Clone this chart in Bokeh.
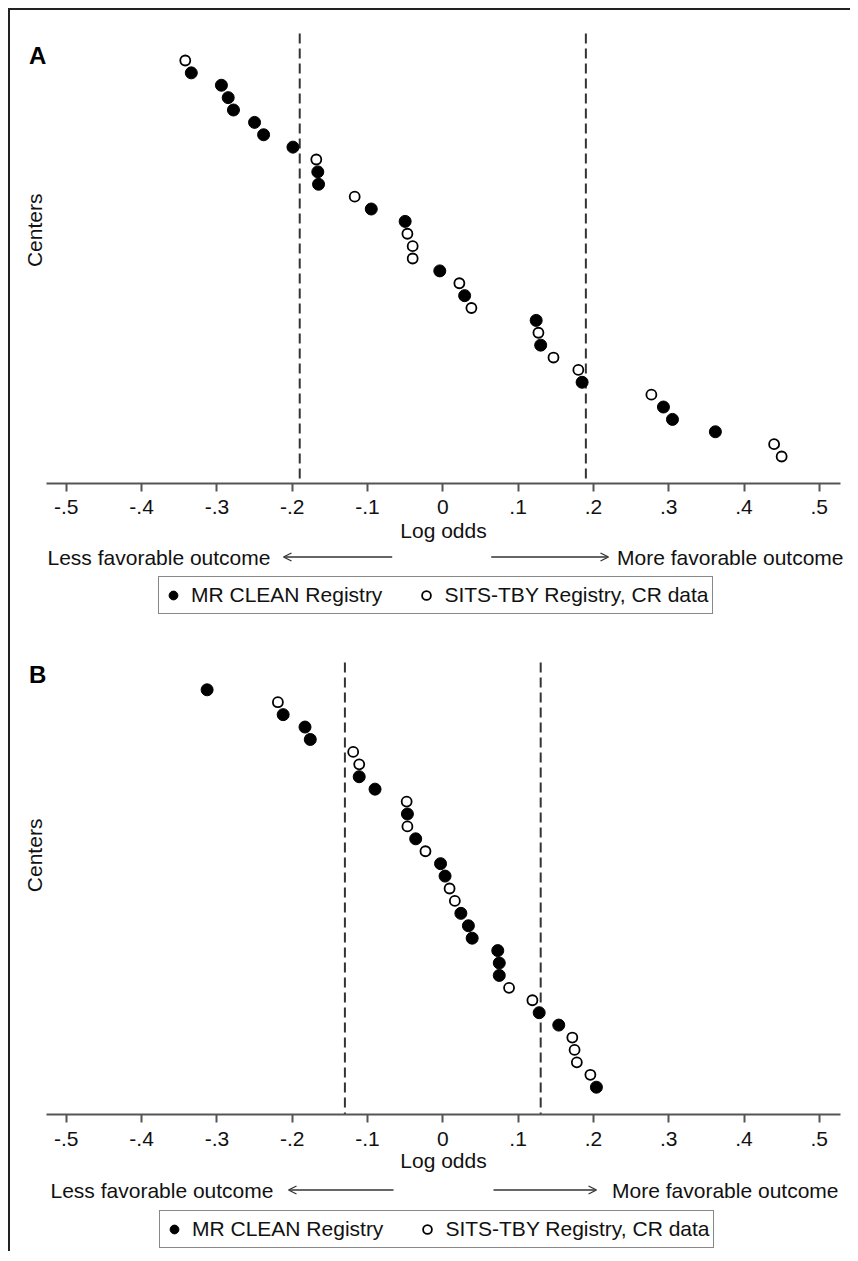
import math
from bokeh.plotting import figure
from bokeh.models import (Range1d, FixedTicker, CustomJSTickFormatter, Label, Arrow,
                          OpenHead, Legend, LegendItem)
from bokeh.layouts import column, row
from bokeh.embed import file_html
from bokeh.resources import INLINE

# ---------------- data (ordered top to bottom) ----------------
a_log_odds = [-0.342, -0.334, -0.294, -0.285, -0.278, -0.250, -0.238, -0.199, -0.168, -0.166,
              -0.165, -0.117, -0.095, -0.050, -0.047, -0.040, -0.040, -0.004, 0.022, 0.029,
              0.038, 0.124, 0.127, 0.130, 0.147, 0.180, 0.185, 0.277, 0.293, 0.305,
              0.362, 0.440, 0.450]
a_registry = ["SITS", "MR", "MR", "MR", "MR", "MR", "MR", "MR", "SITS", "MR",
              "MR", "SITS", "MR", "MR", "SITS", "SITS", "SITS", "MR", "SITS", "MR",
              "SITS", "MR", "SITS", "MR", "SITS", "SITS", "MR", "SITS", "MR", "MR",
              "MR", "SITS", "SITS"]

b_log_odds = [-0.313, -0.219, -0.212, -0.183, -0.176, -0.119, -0.111, -0.111, -0.090, -0.048,
              -0.047, -0.047, -0.036, -0.023, -0.003, 0.003, 0.009, 0.016, 0.024, 0.034,
              0.039, 0.073, 0.075, 0.075, 0.088, 0.119, 0.128, 0.154, 0.172, 0.175,
              0.178, 0.196, 0.204]
b_registry = ["MR", "SITS", "MR", "MR", "MR", "SITS", "SITS", "MR", "MR", "SITS",
              "MR", "SITS", "MR", "SITS", "MR", "MR", "SITS", "SITS", "MR", "MR",
              "MR", "MR", "MR", "MR", "SITS", "SITS", "MR", "MR", "SITS", "SITS",
              "SITS", "SITS", "MR"]

a_cutoffs = [-0.19, 0.19]
b_cutoffs = [-0.13, 0.13]

tick_values = [-0.5, -0.4, -0.3, -0.2, -0.1, 0.0, 0.1, 0.2, 0.3, 0.4, 0.5]
tick_labels = ["-.5", "-.4", "-.3", "-.2", "-.1", "0", ".1", ".2", ".3", ".4", ".5"]

x_axis_label = "Log odds"
y_axis_label = "Centers"
left_text = "Less favorable outcome"
right_text = "More favorable outcome"
series_names = {"MR": "MR CLEAN Registry", "SITS": "SITS-TBY Registry, CR data"}

FONT = "Liberation Sans"
INK = "#111111"
AXIS = "#555555"
ARROW = "#333333"

# horizontal layout (page pixels): log-odds 0 at 442.3 px, 753 px per unit
X0_PX, PX_PER_UNIT = 442.3, 753.0


def px2val(px):
    return (px - X0_PX) / PX_PER_UNIT


def bare(fig):
    fig.grid.visible = False
    fig.outline_line_color = None
    fig.background_fill_color = "white"
    fig.border_fill_color = "white"
    return fig


def split(log_odds, registry, ranks, key):
    xs = [v for v, r in zip(log_odds, registry) if r == key]
    ys = [k for k, r in zip(ranks, registry) if r == key]
    return xs, ys


def add_series(fig, log_odds, registry, ranks):
    mr_x, mr_y = split(log_odds, registry, ranks, "MR")
    si_x, si_y = split(log_odds, registry, ranks, "SITS")
    r_mr = fig.scatter(mr_x, mr_y, marker="circle", size=12, fill_color="black", line_color="black")
    r_si = fig.scatter(si_x, si_y, marker="circle", size=10, fill_color="white",
                       line_color="black", line_width=1.8)
    return r_mr, r_si


def make_panel(letter, log_odds, registry, cutoffs, g):
    ranks = list(range(1, len(log_odds) + 1))
    top_px = g["page_top"]
    main_h = g["main_top"] + g["frame_h"] + g["main_bottom"]
    row_bottom = top_px + main_h

    # ---------- main scatter figure ----------
    p = bare(figure(width=804, height=main_h, output_backend="svg", toolbar_location=None,
                    x_range=Range1d(px2val(46), px2val(840)),
                    y_range=Range1d(g["y_start"], g["y_end"]), y_axis_type=None,
                    min_border_left=0, min_border_right=10,
                    min_border_top=g["main_top"], min_border_bottom=g["main_bottom"]))
    xa = p.xaxis[0]
    xa.ticker = FixedTicker(ticks=tick_values)
    xa.formatter = CustomJSTickFormatter(
        args=dict(vals=tick_values, labs=tick_labels),
        code="const i = vals.findIndex(v => Math.abs(v - tick) < 1e-9); return i >= 0 ? labs[i] : '';")
    xa.axis_line_width = 2
    xa.axis_line_color = AXIS
    xa.major_tick_line_width = 2
    xa.major_tick_line_color = AXIS
    xa.major_tick_out = 8
    xa.major_tick_in = 0
    xa.minor_tick_out = 0
    xa.minor_tick_in = 0
    xa.major_label_text_font = FONT
    xa.major_label_text_font_size = "21px"
    xa.major_label_text_color = INK
    xa.major_label_standoff = g["tick_standoff"]
    xa.axis_label = x_axis_label
    xa.axis_label_text_font = FONT
    xa.axis_label_text_font_size = "21px"
    xa.axis_label_text_font_style = "normal"
    xa.axis_label_text_color = INK
    xa.axis_label_standoff = g["label_standoff"]

    p.segment(x0=cutoffs, y0=[g["dash_top"]] * len(cutoffs), x1=cutoffs,
              y1=[g["y_start"]] * len(cutoffs), line_dash="10 5", line_width=2, line_color="#333333")
    add_series(p, log_odds, registry, ranks)

    # ---------- left strip: panel letter and y label (page-pixel coordinates) ----------
    s = bare(figure(width=36, height=main_h, output_backend="svg", toolbar_location=None,
                    x_range=Range1d(10, 46), y_range=Range1d(row_bottom, top_px),
                    x_axis_type=None, y_axis_type=None, min_border=0))
    s.add_layout(Label(x=28.5, y=g["letter_base"], text=letter, text_font=FONT, text_font_size="24px",
                       text_font_style="bold", text_color="black", text_baseline="alphabetic"))
    s.add_layout(Label(x=33.5, y=g["centers_y"], text=y_axis_label, angle=math.pi / 2,
                       text_align="center", text_baseline="middle",
                       text_font=FONT, text_font_size="21px", text_color=INK))

    # ---------- footer: direction arrows and legend ----------
    foot_h = g["foot_h"]
    f = bare(figure(width=840, height=foot_h, output_backend="svg", toolbar_location=None,
                    x_range=Range1d(px2val(10), px2val(850)),
                    y_range=Range1d(row_bottom + foot_h, row_bottom),
                    x_axis_type=None, y_axis_type=None, min_border=0))
    f.add_layout(Label(x=g["left_x"], y=g["text_y"], text=left_text, text_align="left",
                       text_baseline="middle", text_font=FONT, text_font_size="21px", text_color=INK))
    f.add_layout(Label(x=g["right_x"], y=g["text_y"], text=right_text, text_align="right",
                       text_baseline="middle", text_font=FONT, text_font_size="21px", text_color=INK))
    for xs, xe in g["arrows"]:
        f.add_layout(Arrow(end=OpenHead(size=8, line_width=1.3, line_color=ARROW),
                           x_start=xs, y_start=g["arrow_y"], x_end=xe, y_end=g["arrow_y"],
                           line_width=1.3, line_color=ARROW))
    # the same series in the footer (their ranks lie outside its view) drive the legend
    lr_mr, lr_si = add_series(f, log_odds, registry, ranks)
    leg = Legend(items=[LegendItem(label=series_names["MR"], renderers=[lr_mr]),
                        LegendItem(label=series_names["SITS"], renderers=[lr_si])],
                 orientation="horizontal", location=g["legend_loc"], margin=0,
                 border_line_color="#111111", border_line_width=1.8,
                 background_fill_color="white", background_fill_alpha=1.0,
                 label_text_font=FONT, label_text_font_size="21px", label_text_color=INK,
                 glyph_width=22, glyph_height=24, label_standoff=7, spacing=33, padding=3,
                 label_height=30)
    f.add_layout(leg)

    return column(row(s, p, spacing=0), f, spacing=0)


geom_a = dict(page_top=10, main_top=10, frame_h=463, main_bottom=61, foot_h=87,
              y_start=35.18, y_end=-2.232, dash_top=-1.182,
              tick_standoff=8, label_standoff=2,
              letter_base=50, centers_y=252,
              left_x=px2val(47), right_x=px2val(843), text_y=557, arrow_y=556.5,
              arrows=[(px2val(391.7), px2val(283)), (px2val(490.7), px2val(608))],
              legend_loc=(148, 17))
geom_b = dict(page_top=631, main_top=14, frame_h=469, main_bottom=60, foot_h=77,
              y_start=35.198, y_end=-2.567, dash_top=-1.198,
              tick_standoff=9, label_standoff=0,
              letter_base=665, centers_y=874,
              left_x=px2val(50), right_x=px2val(838), text_y=1190, arrow_y=1189.5,
              arrows=[(px2val(393), px2val(288)), (px2val(493), px2val(596))],
              legend_loc=(149, 3))

panel_a = make_panel("A", a_log_odds, a_registry, a_cutoffs, geom_a)
panel_b = make_panel("B", b_log_odds, b_registry, b_cutoffs, geom_b)

layout = column(panel_a, panel_b, spacing=0,
                styles={"margin-left": "8px", "margin-top": "8px",
                        "border-left": "2px solid #222222", "border-top": "2px solid #222222"})

open("out.html", "w").write(file_html(layout, INLINE))
